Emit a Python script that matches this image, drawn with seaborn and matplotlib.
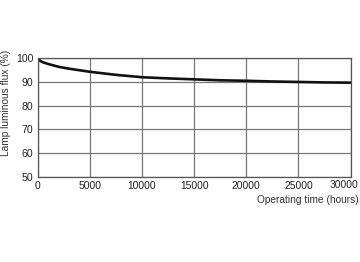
import matplotlib
matplotlib.use("Agg")
import matplotlib.pyplot as plt
import seaborn as sns
import pandas as pd

hours = [0, 100, 250, 500, 1000, 2000, 3000, 5000, 7500, 10000, 12500, 15000, 17500, 20000, 22500, 25000, 27500, 30000]
flux = [100, 99.5, 98.9, 98.3, 97.6, 96.4, 95.6, 94.3, 93.0, 92.0, 91.5, 91.1, 90.7, 90.5, 90.2, 90.0, 89.8, 89.7]
xticks = [0, 5000, 10000, 15000, 20000, 25000, 30000]
yticks = [50, 60, 70, 80, 90, 100]

sns.set_theme(style="white")
plt.rcParams['font.family'] = ['Liberation Sans', 'DejaVu Sans']

df = pd.DataFrame({"hours": hours, "flux": flux})
fig = plt.figure(figsize=(3.6, 2.62), dpi=100)
ax = fig.add_axes([0.1047, 0.3256, 0.869, 0.452])
sns.lineplot(data=df, x="hours", y="flux", ax=ax, color="#111111", linewidth=1.9)
ax.set_xlim(0, 30000)
ax.set_ylim(50, 100)
ax.set_xticks(xticks)
ax.set_yticks(yticks)
labels = [str(t) for t in xticks]
ax.set_xticklabels(labels[:-1] + [""], fontsize=7.4, color="#222222")
ax.annotate(labels[-1], xy=(xticks[-1], 50), xytext=(-4.5, -2.3), textcoords="offset points",
            ha="center", va="top", fontsize=7.4, color="#222222", annotation_clip=False)
ax.set_yticklabels([str(t) for t in yticks], fontsize=7.6, color="#222222")
ax.grid(True, color="#777777", linewidth=0.9)
for s in ax.spines.values():
    s.set_color("#555555")
    s.set_linewidth(0.9)
ax.tick_params(length=0, pad=3)
ax.set_xlabel("")
ax.set_ylabel("")
fig.text(0.018, 0.607, "Lamp luminous flux (%)", rotation=90, ha="center", va="center",
         fontsize=7.3, color="#333333")
fig.text(0.997, 0.237, "Operating time (hours)", ha="right", va="center", fontsize=7.3, color="#333333")
fig.savefig("out.png", dpi=100, facecolor="white")
